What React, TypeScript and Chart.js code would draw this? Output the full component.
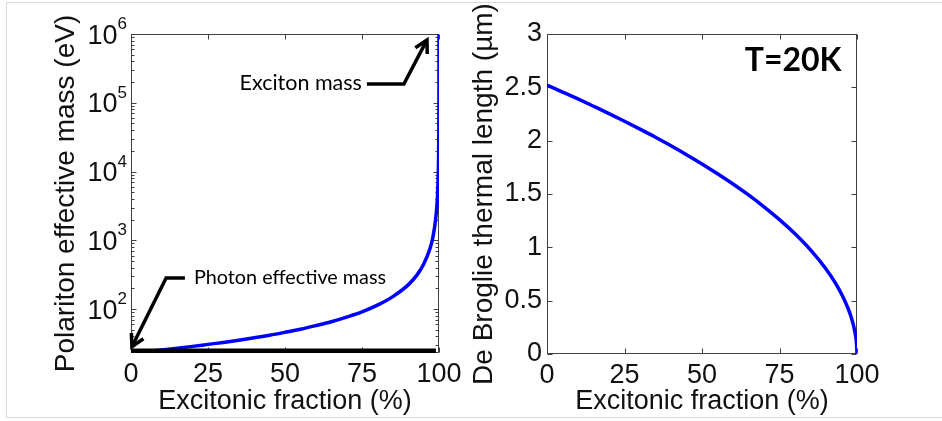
import React, { useEffect, useRef } from "react";
import { Chart, registerables } from "chart.js";

Chart.register(...registerables);

// ---- data ----
const massFraction = [0, 5, 10, 15, 20, 25, 30, 35, 40, 45, 50, 55, 60, 65, 70, 75, 80, 85, 90, 93, 95, 97, 98, 99, 99.5, 99.8, 99.9, 99.95, 99.98, 99.99, 100];
const polaritonMass = [23, 24.2, 25.5, 27, 28.7, 30.7, 32.8, 35.3, 38.2, 41.7, 46, 51, 57.5, 65.5, 76.5, 91, 114, 152, 225, 320, 450, 740, 1100, 2200, 4400, 11000, 22000, 45000, 110000, 220000, 1000000];

const photonFraction = [0, 99];
const photonMass = [23, 23];

const lengthFraction = [0, 5, 10, 15, 20, 25, 30, 35, 40, 45, 50, 55, 60, 65, 70, 75, 80, 85, 90, 93, 95, 97, 98, 99, 99.5, 99.8, 100];
const deBroglieLength = [2.52, 2.456, 2.391, 2.323, 2.254, 2.182, 2.108, 2.032, 1.952, 1.869, 1.782, 1.69, 1.594, 1.491, 1.38, 1.26, 1.127, 0.976, 0.797, 0.667, 0.563, 0.436, 0.356, 0.252, 0.178, 0.113, 0];

const fractionTicks = [0, 25, 50, 75, 100];
const massDecades = [2, 3, 4, 5, 6];
const massRange = [23, 1000000];
const lengthTicks = [0, 0.5, 1, 1.5, 2, 2.5, 3];

// callouts: text + leader path in data units (last point is the arrow tip)
const excitonNote = { text: "Exciton mass", path: [[76.6, 187000], [88.6, 187000], [96.1, 820000]] };
const photonNote = { text: "Photon effective mass", path: [[17.5, 284], [11.4, 284], [0.3, 28.3]] };
const temperatureNote = { text: "T=20K", x: 79.4, y: 2.75 };

// ---- styles ----
const AXIS_FONT = '"Liberation Sans", Arial, Helvetica, sans-serif';
const NOTE_FONT = 'Lato, "Open Sans", sans-serif';
const BOX_COLOR = "#404040";
const TEXT_COLOR = "#111111";
const CURVE_COLOR = "#0000ff";

const W = 942;
const H = 421;

function toPairs(xs: number[], ys: number[]) {
  return xs.map((x, i) => ({ x, y: ys[i] }));
}

// MATLAB-style box with inward ticks on all four sides
function axesBoxPlugin(xMajor: number[], yMajor: number[], yMinor: number[]) {
  return {
    id: "axesBox",
    beforeDatasetsDraw(chart: any) {
      const { ctx, chartArea: a, scales } = chart;
      const sx = scales.x;
      const sy = scales.y;
      ctx.save();
      ctx.strokeStyle = BOX_COLOR;
      ctx.lineWidth = 1;
      const L = Math.round(a.left) + 0.5;
      const R = Math.round(a.right) - 0.5;
      const T = Math.round(a.top) + 0.5;
      const B = Math.round(a.bottom) - 0.5;
      ctx.strokeRect(L, T, R - L, B - T);
      ctx.beginPath();
      for (const v of xMajor) {
        const px = Math.round(sx.getPixelForValue(v)) + 0.5;
        ctx.moveTo(px, B); ctx.lineTo(px, B - 5);
        ctx.moveTo(px, T); ctx.lineTo(px, T + 5);
      }
      for (const v of yMajor) {
        const py = Math.round(sy.getPixelForValue(v)) + 0.5;
        ctx.moveTo(L, py); ctx.lineTo(L + 5, py);
        ctx.moveTo(R, py); ctx.lineTo(R - 5, py);
      }
      for (const v of yMinor) {
        const py = Math.round(sy.getPixelForValue(v)) + 0.5;
        ctx.moveTo(L, py); ctx.lineTo(L + 3, py);
        ctx.moveTo(R, py); ctx.lineTo(R - 3, py);
      }
      ctx.stroke();
      ctx.restore();
    },
  };
}

// "10^n" labels for the log axis
const decadeLabelsPlugin = {
  id: "decadeLabels",
  afterDraw(chart: any) {
    const { ctx, chartArea: a, scales } = chart;
    const sy = scales.y;
    ctx.save();
    ctx.fillStyle = TEXT_COLOR;
    ctx.textBaseline = "alphabetic";
    for (const p of massDecades) {
      const py = sy.getPixelForValue(Math.pow(10, p));
      const right = a.left - 4;
      ctx.font = `17px ${AXIS_FONT}`;
      const sup = String(p);
      const supW = ctx.measureText(sup).width;
      ctx.textAlign = "right";
      ctx.fillText(sup, right, py - 5);
      ctx.font = `27px ${AXIS_FONT}`;
      ctx.fillText("10", right - supW, py + 9.7);
    }
    ctx.restore();
  },
};

function drawCallout(chart: any, note: { text: string; path: number[][] }, textSide: "left" | "right", size: number) {
  const { ctx, scales } = chart;
  const pts = note.path.map(([x, y]) => ({ x: scales.x.getPixelForValue(x), y: scales.y.getPixelForValue(y) }));
  ctx.save();
  ctx.strokeStyle = "#000";
  ctx.lineWidth = 3.5;
  ctx.lineJoin = "miter";
  ctx.lineCap = "butt";
  ctx.beginPath();
  pts.forEach((p, i) => (i === 0 ? ctx.moveTo(p.x, p.y) : ctx.lineTo(p.x, p.y)));
  ctx.stroke();
  const tip = pts[pts.length - 1];
  const prev = pts[pts.length - 2];
  const ang = Math.atan2(tip.y - prev.y, tip.x - prev.x);
  const len = 14;
  const spread = 0.5;
  ctx.beginPath();
  ctx.moveTo(tip.x - len * Math.cos(ang - spread), tip.y - len * Math.sin(ang - spread));
  ctx.lineTo(tip.x, tip.y);
  ctx.lineTo(tip.x - len * Math.cos(ang + spread), tip.y - len * Math.sin(ang + spread));
  ctx.stroke();

  ctx.fillStyle = "#000";
  ctx.font = `${size}px ${NOTE_FONT}`;
  ctx.textBaseline = "middle";
  const start = pts[0];
  if (textSide === "left") {
    ctx.textAlign = "right";
    ctx.fillText(note.text, start.x - 5, start.y - 1);
  } else {
    ctx.textAlign = "left";
    ctx.fillText(note.text, start.x + 9, start.y);
  }
  ctx.restore();
}

const massCalloutsPlugin = {
  id: "massCallouts",
  afterDatasetsDraw(chart: any) {
    drawCallout(chart, excitonNote, "left", 21.5);
    drawCallout(chart, photonNote, "right", 19.8);
  },
};

const temperaturePlugin = {
  id: "temperature",
  afterDatasetsDraw(chart: any) {
    const { ctx, scales } = chart;
    ctx.save();
    ctx.fillStyle = "#000";
    ctx.font = `bold 32px ${NOTE_FONT}`;
    ctx.textAlign = "center";
    ctx.textBaseline = "middle";
    ctx.fillText(temperatureNote.text, scales.x.getPixelForValue(temperatureNote.x), scales.y.getPixelForValue(temperatureNote.y));
    ctx.restore();
  },
};

function logMinorTicks(min: number, max: number) {
  const out: number[] = [];
  for (let d = 0; d <= 6; d++) {
    for (let m = 2; m <= 9; m++) {
      const v = m * Math.pow(10, d);
      if (v > min && v < max) out.push(v);
    }
  }
  return out;
}

function xAxis(height: number) {
  return {
    type: "linear" as const,
    min: 0,
    max: 100,
    ticks: { stepSize: 25, padding: 5, color: TEXT_COLOR, font: { size: 27, family: AXIS_FONT } },
    grid: { display: false, drawTicks: false },
    border: { display: false },
    title: {
      display: true,
      text: "Excitonic fraction (%)",
      color: TEXT_COLOR,
      font: { size: 27, family: AXIS_FONT, lineHeight: 1 },
      padding: { top: 0, bottom: 6 },
    },
    afterFit(scale: any) {
      scale.height = height;
    },
  };
}

function massConfig(): any {
  return {
    type: "line",
    data: {
      datasets: [
        {
          data: toPairs(photonFraction, photonMass),
          borderColor: "#000",
          borderWidth: 9,
          pointRadius: 0,
          clip: 0,
        },
        {
          data: toPairs(massFraction, polaritonMass),
          borderColor: CURVE_COLOR,
          borderWidth: 3.5,
          pointRadius: 0,
          cubicInterpolationMode: "monotone",
        },
      ],
    },
    options: {
      animation: false,
      responsive: false,
      devicePixelRatio: 1,
      layout: { padding: { left: 0, top: 34, right: 31, bottom: 0 } },
      plugins: { legend: { display: false }, tooltip: { enabled: false } },
      scales: {
        x: xAxis(68),
        y: {
          type: "logarithmic",
          min: massRange[0],
          max: massRange[1],
          ticks: { display: false },
          grid: { display: false, drawTicks: false },
          border: { display: false },
          title: {
            display: true,
            text: "Polariton effective mass (eV)",
            color: TEXT_COLOR,
            font: { size: 28, family: AXIS_FONT, lineHeight: 1 },
            padding: { top: 52, bottom: 0 },
          },
          afterFit(scale: any) {
            scale.width = 131;
          },
        },
      },
    },
    plugins: [
      axesBoxPlugin(fractionTicks, massDecades.map((p) => Math.pow(10, p)), logMinorTicks(massRange[0], massRange[1])),
      decadeLabelsPlugin,
      massCalloutsPlugin,
    ],
  };
}

function lengthConfig(): any {
  return {
    type: "line",
    data: {
      datasets: [
        {
          data: toPairs(lengthFraction, deBroglieLength),
          borderColor: CURVE_COLOR,
          borderWidth: 3.5,
          pointRadius: 0,
          cubicInterpolationMode: "monotone",
        },
      ],
    },
    options: {
      animation: false,
      responsive: false,
      devicePixelRatio: 1,
      layout: { padding: { left: 0, top: 34, right: 85, bottom: 0 } },
      plugins: { legend: { display: false }, tooltip: { enabled: false } },
      scales: {
        x: xAxis(67),
        y: {
          type: "linear",
          min: lengthTicks[0],
          max: lengthTicks[lengthTicks.length - 1],
          afterBuildTicks(scale: any) {
            scale.ticks = lengthTicks.map((v) => ({ value: v }));
          },
          ticks: {
            padding: 5,
            color: TEXT_COLOR,
            font: { size: 27, family: AXIS_FONT },
            callback: (v: number) => String(v),
          },
          grid: { display: false, drawTicks: false },
          border: { display: false },
          title: {
            display: true,
            text: "De Broglie thermal length (µm)",
            color: TEXT_COLOR,
            font: { size: 28, family: AXIS_FONT, lineHeight: 1 },
            padding: { top: 0, bottom: 0 },
          },
          afterFit(scale: any) {
            scale.width = 77;
          },
        },
      },
    },
    plugins: [axesBoxPlugin(fractionTicks, lengthTicks, []), temperaturePlugin],
  };
}

function PlotCanvas({ left, width, makeConfig }: { left: number; width: number; makeConfig: () => any }) {
  const ref = useRef<HTMLCanvasElement | null>(null);
  useEffect(() => {
    if (!ref.current) return;
    const chart = new Chart(ref.current, makeConfig());
    return () => chart.destroy();
  }, [makeConfig]);
  return (
    <canvas
      ref={ref}
      width={width}
      height={H}
      style={{ position: "absolute", left, top: 0, width, height: H }}
    />
  );
}

export default function App() {
  return (
    <div style={{ position: "absolute", left: 0, top: 0, width: W, height: H, background: "#fff", overflow: "hidden" }}>
      <div
        style={{
          position: "absolute",
          left: 6,
          top: 2,
          width: W,
          height: 416,
          borderTop: "1px solid #d9d9d9",
          borderBottom: "1px solid #d9d9d9",
          borderLeft: "1px solid #d9d9d9",
          boxSizing: "border-box",
        }}
      />
      <PlotCanvas left={0} width={470} makeConfig={massConfig} />
      <PlotCanvas left={470} width={472} makeConfig={lengthConfig} />
    </div>
  );
}
